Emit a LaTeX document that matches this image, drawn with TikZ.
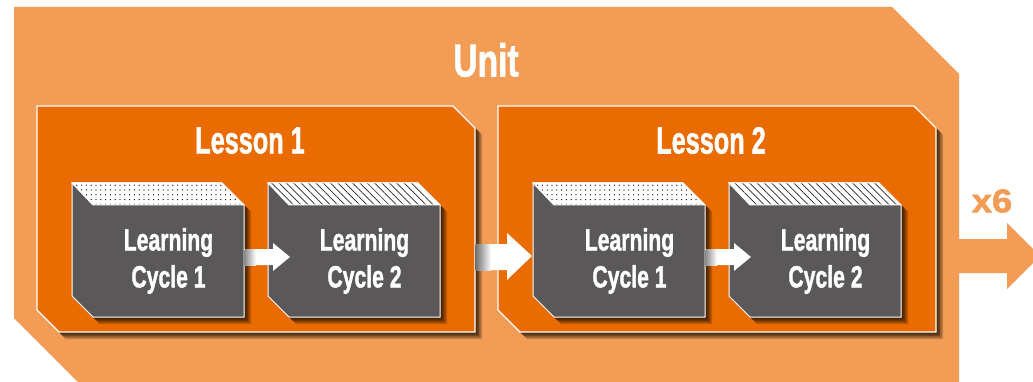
\documentclass[tikz,border=0pt]{standalone}
\usepackage{fontspec}
\setmainfont{Liberation Sans}[BoldFeatures={FakeBold=1.6}]
\usetikzlibrary{patterns.meta}

\definecolor{unitorange}{RGB}{242,156,85}
\definecolor{lessonorange}{RGB}{234,107,0}
\definecolor{cubegrey}{RGB}{90,88,89}
\definecolor{shadowtone}{RGB}{40,20,5}

\tikzset{
  % layered offset copies give a soft dark shadow to the lower right
  softshadow/.style={
    preaction={fill=shadowtone, fill opacity=0.22, transform canvas={shift={(7pt,-7pt)}}},
    preaction={fill=shadowtone, fill opacity=0.28, transform canvas={shift={(5.5pt,-5.5pt)}}},
    preaction={fill=shadowtone, fill opacity=0.35, transform canvas={shift={(4pt,-4pt)}}},
    preaction={fill=shadowtone, fill opacity=0.4, transform canvas={shift={(2.5pt,-2.5pt)}}}},
  unitshape/.style={fill=unitorange},
  lessonbox/.style={softshadow, fill=lessonorange, draw=white, line width=1.3pt},
  cubebody/.style={softshadow, fill=cubegrey, draw=white, line width=1pt},
  dotstop/.style={preaction={fill=white}, draw=white, line width=1pt,
      pattern={Dots[distance=4.8pt, radius=0.65pt]}, pattern color=black},
  stripetop/.style={preaction={fill=white}, draw=white, line width=1pt,
      pattern={Lines[angle=-45, distance=5.2pt, line width=0.7pt]}, pattern color=black!85},
  blockarrow/.style={fill=white},
  titletext/.style={text=white, font=\bfseries\fontsize{37.7}{40}\selectfont, xscale=0.67},
  cubetext/.style={text=white, font=\bfseries\fontsize{30.7}{37}\selectfont, xscale=0.69, align=center},
  % learning-cycle cube: back-left top corner at the pic origin
  pics/cube/.style 2 args={code={
    \path[cubebody] (0,0) -- (150,0) -- (172,22) -- (172,134) -- (21,134) -- (0,113) -- cycle;
    \path[#1] (0,0) -- (150,0) -- (172,22) -- (21,22) -- cycle;
    \node[cubetext] (-label) at (96.5,78) {#2};
  }}
}

\begin{document}
\begin{tikzpicture}[x=1pt, y=-1pt]
  \useasboundingbox (0,0) rectangle (1033,382);
  \fill[white] (0,0) rectangle (1033,382);

  % the unit, with the repeat arrow leaving on the right
  \path[unitshape] (14,7) -- (892,7) -- (959,74) -- (959,239) -- (1007,239) -- (1007,223)
    -- (1040,256) -- (1007,289) -- (1007,273) -- (959,273) -- (959,390) -- (86,390)
    -- (14,318) -- cycle;
  \node[text=unitorange, font=\bfseries\fontsize{33}{35}\selectfont, xscale=1.1] (repeat) at (992,201) {x6};
  \node[text=white, font=\bfseries\fontsize{46}{48}\selectfont, xscale=0.73] (unit) at (486,60) {Unit};

  \foreach \n/\dx in {1/0, 2/461}{
    \begin{scope}[xshift=\dx pt, name prefix=l\n-]
      \path[lessonbox] (37,106) -- (453,106) -- (475,128) -- (475,332) -- (59,332) -- (37,310) -- cycle;
      \node[titletext] (title) at (250,140.5) {Lesson \n};
      \pic (lc1) at (72,183) {cube={dotstop}{Learning\\Cycle 1}};
      \pic (lc2) at (268,183) {cube={stripetop}{Learning\\Cycle 2}};
      % arrow from cycle 1 to cycle 2
      \path[blockarrow] (244,249) -- (273,249) -- (273,243) -- (290,257) -- (273,271) -- (273,265) -- (244,265) -- cycle;
      \shade[left color=black!45, right color=white] (244.5,249) rectangle (256,265);
    \end{scope}
  }

  % arrow from lesson 1 to lesson 2
  \path[blockarrow] (476,244) -- (507,244) -- (507,233) -- (532,256) -- (507,280) -- (507,270) -- (476,270) -- cycle;
  \shade[left color=black!55, right color=white] (475.7,244) rectangle (491,270);
\end{tikzpicture}
\end{document}
